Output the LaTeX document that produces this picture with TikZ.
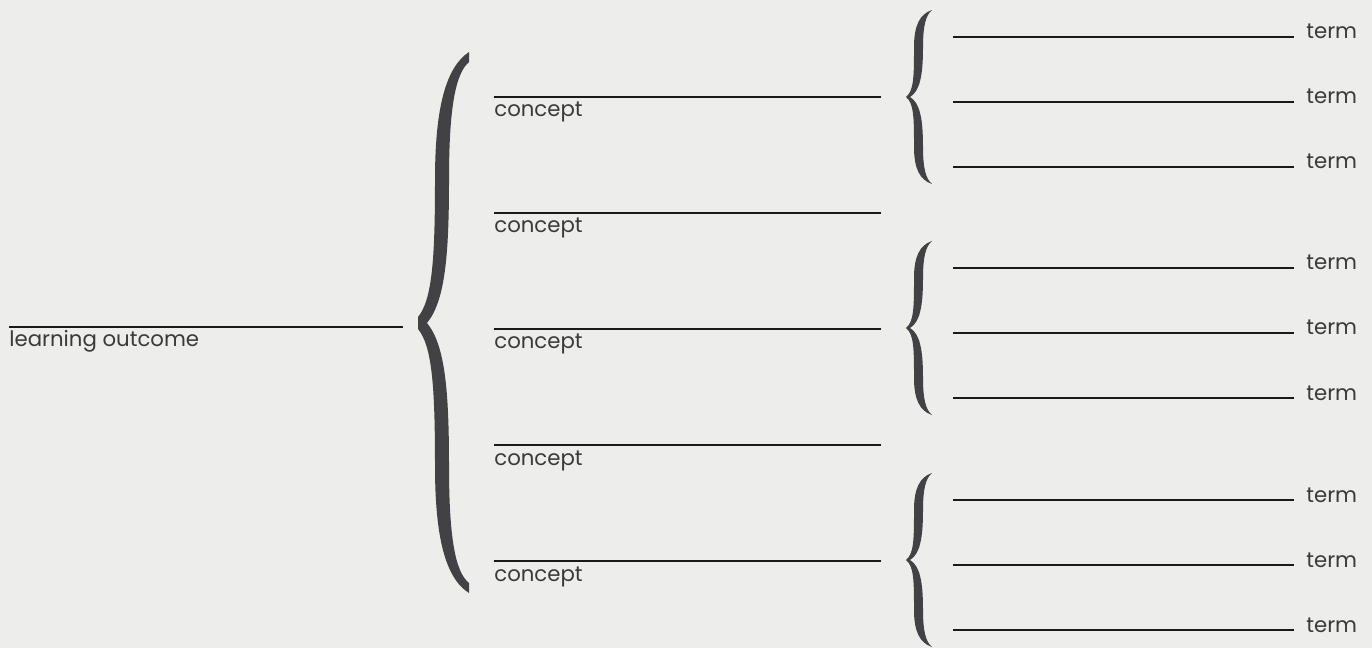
\documentclass[tikz,border=0pt]{standalone}
\usepackage{fontspec}
\setmainfont{Poppins}
\usepackage{tikz}
\definecolor{paper}{HTML}{EDEDEB}
\definecolor{brace}{HTML}{424244}
\definecolor{ink}{HTML}{1A1A1A}
\definecolor{label}{HTML}{3A3A3A}
\tikzset{
  blank/.style={draw=ink, line width=0.8pt},
  caption/.style={text=label, inner sep=0pt, font=\fontsize{12.1}{14}\selectfont}
}

\begin{document}
\begin{tikzpicture}[x=0.02cm, y=-0.02cm]
        \fill[paper] (0,0) rectangle (1372,648);
        \useasboundingbox (0,0) rectangle (1372,648);
        % learning outcome
        \coordinate (LA) at (9,327); \coordinate (LB) at (403,327);
        \draw[blank] (LA)--(LB);
        \node[caption, anchor=base west] (L) at (9,347) {learning outcome};
        % big brace
        \fill[brace] (469,52) .. controls (445,68) and (435,110) .. (435,180)
          .. controls (435,260) and (432,300) .. (418,317) -- (418,329)
          .. controls (432,346) and (435,386) .. (435,466)
          .. controls (435,536) and (445,578) .. (469,593) -- (469,583)
          .. controls (455,572) and (449,536) .. (449,466)
          .. controls (449,390) and (445,345) .. (427,323)
          .. controls (445,301) and (449,256) .. (449,180)
          .. controls (449,110) and (455,74) .. (469,62) -- cycle;
        % concepts
        \foreach \c/\y in {1/97, 2/213, 3/329, 4/445, 5/561} {
          \coordinate (C\c a) at (494,\y); \coordinate (C\c b) at (881,\y);
          \draw[blank] (C\c a)--(C\c b);
          \node[caption, anchor=base west] (C\c) at (494,\y+20) {concept};
        }
        % small braces and terms
        \foreach \g/\t in {1/97, 2/328, 3/560} {
          \begin{scope}[shift={(0,\t)}]
            \fill[brace] (932,-87) .. controls (920,-83) and (914,-72) .. (914,-50)
              .. controls (914,-22) and (914,-6) .. (906,0)
              .. controls (914,6) and (914,22) .. (914,50)
              .. controls (914,72) and (920,83) .. (932,87)
              .. controls (926,82) and (923,72) .. (923,50)
              .. controls (923,22) and (920,6) .. (910,0)
              .. controls (920,-6) and (923,-22) .. (923,-50)
              .. controls (923,-72) and (926,-82) .. (932,-87) -- cycle;
            \foreach \k/\d in {1/-60, 2/5, 3/70} {
              \coordinate (T\g\k a) at (953,\d); \coordinate (T\g\k b) at (1294,\d);
              \draw[blank] (T\g\k a)--(T\g\k b);
              \node[caption, anchor=base west] (T\g\k) at (1306,\d+2) {term};
            }
          \end{scope}
        }
    \end{tikzpicture}
\end{document}
